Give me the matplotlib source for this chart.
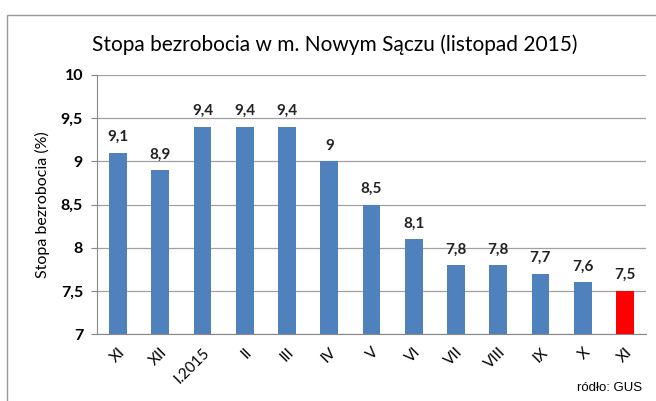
import matplotlib.pyplot as plt
from matplotlib.patches import Rectangle

miesiace = ['XI', 'XII', 'I.2015', 'II', 'III', 'IV', 'V', 'VI', 'VII', 'VIII', 'IX', 'X', 'XI']
stopa = [9.1, 8.9, 9.4, 9.4, 9.4, 9.0, 8.5, 8.1, 7.8, 7.8, 7.7, 7.6, 7.5]
etykiety = ['9,1', '8,9', '9,4', '9,4', '9,4', '9', '8,5', '8,1', '7,8', '7,8', '7,7', '7,6', '7,5']
y_ticks = [7, 7.5, 8, 8.5, 9, 9.5, 10]
y_labels = ['7', '7,5', '8', '8,5', '9', '9,5', '10']

plt.rcParams['font.family'] = ['Lato', 'DejaVu Sans']

fig = plt.figure(figsize=(6.56, 4.01), dpi=100)
ax = fig.add_axes([97/656, 1-334/401, 549/656, 259/401])

# ramka wykresu
fig.patches.append(Rectangle((7/656, -0.01), 1.0, 1-15/401+0.01, transform=fig.transFigure,
                             fill=False, edgecolor='#9a9a9a', lw=1.0))

kolory = ['#4f81bd'] * (len(stopa) - 1) + ['#ff0000']
x = range(len(stopa))
ax.bar(x, [v - 7 for v in stopa], bottom=7, width=0.42, color=kolory, zorder=3)
for i, v in enumerate(stopa):
    ax.text(i, v + 0.1, etykiety[i], ha='center', va='bottom', fontsize=11,
            fontweight='bold', color='#222222')

ax.set_ylim(7, 10)
ax.set_xlim(-0.5, len(stopa) - 0.5)
ax.set_yticks(y_ticks)
ax.set_yticklabels(y_labels, fontsize=11.5, fontweight='bold')
ax.set_xticks(list(x))
ax.set_xticklabels(miesiace, rotation=45, ha='right', rotation_mode='anchor', fontsize=11)
ax.tick_params(axis='x', length=0, pad=8)
ax.tick_params(axis='y', length=4, color='#888888', pad=6)
ax.grid(axis='y', color='#a0a0a0', lw=0.9, zorder=0)
for s in ['top', 'right']:
    ax.spines[s].set_visible(False)
ax.spines['left'].set_color('#888888')
ax.spines['bottom'].set_color('#888888')

ax.set_ylabel('Stopa bezrobocia (%)', fontsize=11.5, labelpad=8)
fig.text(335/656, 1-45/401, 'Stopa bezrobocia w m. Nowym Sączu (listopad 2015)',
         ha='center', va='center', fontsize=15)
fig.text(642/656, 1-388/401, 'ródło: GUS', ha='right', va='center', fontsize=9.5,
         family='Liberation Sans')

fig.savefig('out.png', dpi=100)
